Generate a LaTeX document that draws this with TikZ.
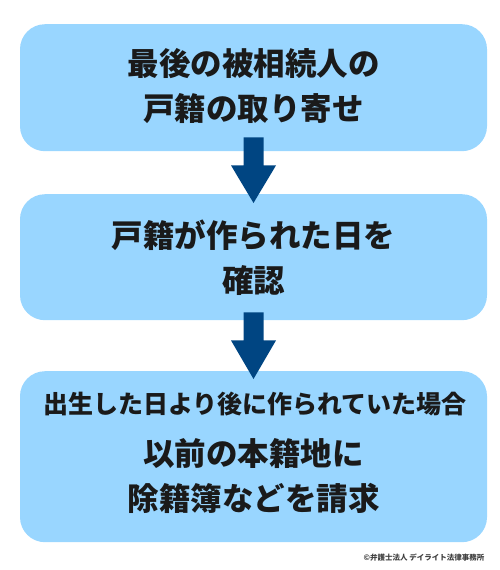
\documentclass[tikz,border=0pt]{standalone}
\usepackage{fontspec}
\setmainfont{Noto Sans CJK JP}
\usetikzlibrary{calc}
\definecolor{boxfill}{RGB}{153,214,255}
\definecolor{arrowc}{RGB}{0,69,130}
\definecolor{txt}{RGB}{26,26,26}
\begin{document}
\begin{tikzpicture}[x=1pt,y=-1pt,
  box/.style={fill=boxfill,rounded corners=25pt,minimum width=467pt,inner sep=0pt,anchor=north},
  big/.style={text=txt,font=\fontsize{31.5}{45}\selectfont\bfseries,align=center,inner sep=0pt},
  small/.style={text=txt,font=\fontsize{25}{30}\selectfont\bfseries,inner sep=0pt},
  flowarrow/.style={fill=arrowc}]
\useasboundingbox (0,0) rectangle (500,570);
\node[box,minimum height=127pt] (b1) at (253.5,24) {};
\node[box,minimum height=126pt] (b2) at (253.5,194) {};
\node[box,minimum height=171pt] (b3) at (253.5,371) {};
\node[big] (t1) at (253.5,86) {最後の被相続人の\\戸籍の取り寄せ};
\node[big] (t2) at (253.5,258) {戸籍が作られた日を\\確認};
\node[small] (t3a) at (255,404) {出生した日より後に作られていた場合};
\node[big] (t3b) at (253.5,476.5) {以前の本籍地に\\除籍簿などを請求};
\fill[flowarrow] ($(b1.south)+(-10,-14)$) -- ++(20,0) -- ++(0,28) -- ++(12.5,0)
  -- ($(b2.north)+(0,9)$) -- ($(b1.south)+(-22.5,14)$) -- ++(12.5,0) -- cycle;
\fill[flowarrow] ($(b2.south)+(-10,-8)$) -- ++(20,0) -- ++(0,28) -- ++(12.5,0)
  -- ($(b3.north)+(0,8)$) -- ($(b2.south)+(-22.5,20)$) -- ++(12.5,0) -- cycle;
\node[text=black!75,font=\fontsize{7.5}{9}\selectfont\bfseries,inner sep=0pt] (copy) at (424,558) {©弁護士法人 デイライト法律事務所};
\end{tikzpicture}
\end{document}
